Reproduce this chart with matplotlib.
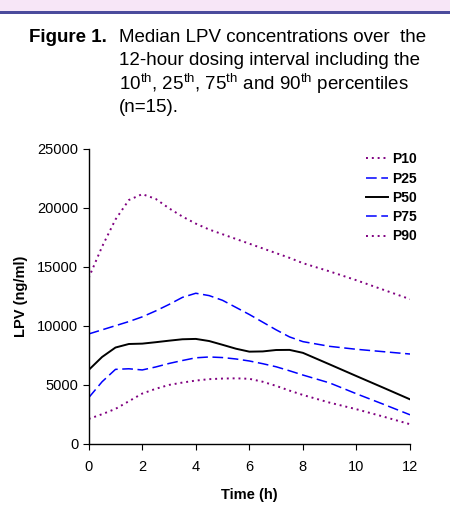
import matplotlib
matplotlib.use("Agg")
import matplotlib.pyplot as plt
from matplotlib.patches import Rectangle

plt.rcParams["font.family"] = ["Liberation Sans", "DejaVu Sans"]

# values (ng/ml)
times = [0, 0.5, 1, 1.5, 2, 2.5, 3, 3.5, 4, 4.5, 5, 5.5, 6, 6.5, 7, 7.5, 8, 9, 10, 11, 12]
p10 = [2100, 2500, 2950, 3600, 4250, 4650, 4980, 5180, 5350, 5470, 5520, 5540, 5500,
       5250, 4900, 4500, 4130, 3480, 2920, 2300, 1650]
p25 = [3900, 5250, 6300, 6350, 6250, 6500, 6800, 7050, 7280, 7350, 7300, 7180, 7010,
       6780, 6520, 6180, 5820, 5150, 4230, 3350, 2450]
p50 = [6250, 7350, 8150, 8450, 8480, 8600, 8730, 8850, 8880, 8700, 8380, 8050, 7800,
       7820, 7940, 7950, 7700, 6720, 5730, 4750, 3760]
p75 = [9300, 9650, 10000, 10350, 10750, 11250, 11800, 12400, 12750, 12550, 12150, 11550, 10950,
       10300, 9650, 9050, 8650, 8250, 8000, 7800, 7600]
p90 = [14050, 16700, 19000, 20650, 21150, 20750, 19950, 19250, 18650, 18150, 17750, 17350, 16950,
       16550, 16150, 15750, 15300, 14600, 13850, 13050, 12250]

x_ticks = [0, 2, 4, 6, 8, 10, 12]
y_ticks = [0, 5000, 10000, 15000, 20000, 25000]

PURPLE = "#800080"
BLUE = "#0000ff"

fig = plt.figure(figsize=(4.5, 5.09), dpi=100)

# header band of the poster
fig.patches.append(Rectangle((0, 1 - 11 / 509), 1, 11 / 509, transform=fig.transFigure,
                             facecolor="#f7e6f7", edgecolor="none"))
fig.patches.append(Rectangle((0, 1 - 13.5 / 509), 1, 2.5 / 509, transform=fig.transFigure,
                             facecolor="#4b4b9c", edgecolor="none"))

# caption
fig.text(29 / 450, 1 - 37 / 509, "Figure 1.", fontsize=13.5, fontweight="bold", va="center")
caption = ["Median LPV concentrations over  the",
           "12-hour dosing interval including the",
           "10$^{\\mathregular{th}}$, 25$^{\\mathregular{th}}$, 75$^{\\mathregular{th}}$"
           " and 90$^{\\mathregular{th}}$ percentiles",
           "(n=15)."]
for i, line in enumerate(caption):
    fig.text(119 / 450, 1 - (37 + 23.5 * i) / 509, line, fontsize=13.5, va="center")

ax = fig.add_axes([88.7 / 450, 1 - 443.7 / 509, (410 - 88.7) / 450, (443.7 - 148.7) / 509])

ax.plot(times, p10, color=PURPLE, ls=(0, (1, 2)), lw=1.4, label="P10")
ax.plot(times, p25, color=BLUE, ls=(0, (7, 3)), lw=1.1, label="P25")
ax.plot(times, p50, color="black", ls="-", lw=1.4, label="P50")
ax.plot(times, p75, color=BLUE, ls=(0, (7, 3)), lw=1.1, label="P75")
ax.plot(times, p90, color=PURPLE, ls=(0, (1, 2)), lw=1.4, label="P90")

ax.set_xlim(0, 12)
ax.set_ylim(0, 25000)
ax.set_xticks(x_ticks)
ax.set_yticks(y_ticks)
ax.tick_params(direction="out", length=4, width=0.8, labelsize=10.5, colors="black")
ax.tick_params(axis="x", pad=8)
for side in ("top", "right"):
    ax.spines[side].set_visible(False)
for side in ("left", "bottom"):
    ax.spines[side].set_linewidth(1.0)

ax.set_xlabel("Time (h)", fontsize=10.5, fontweight="bold", labelpad=10)
ax.set_ylabel("LPV (ng/ml)", fontsize=10.5, fontweight="bold")
ax.yaxis.set_label_coords(-0.19, 0.5)

leg = ax.legend(loc="upper right", bbox_to_anchor=(1.06, 1.03), frameon=False,
                prop={"weight": "bold", "size": 10}, handlelength=1.6,
                handletextpad=0.3, labelspacing=0.38)

fig.savefig("out.png", dpi=100)
